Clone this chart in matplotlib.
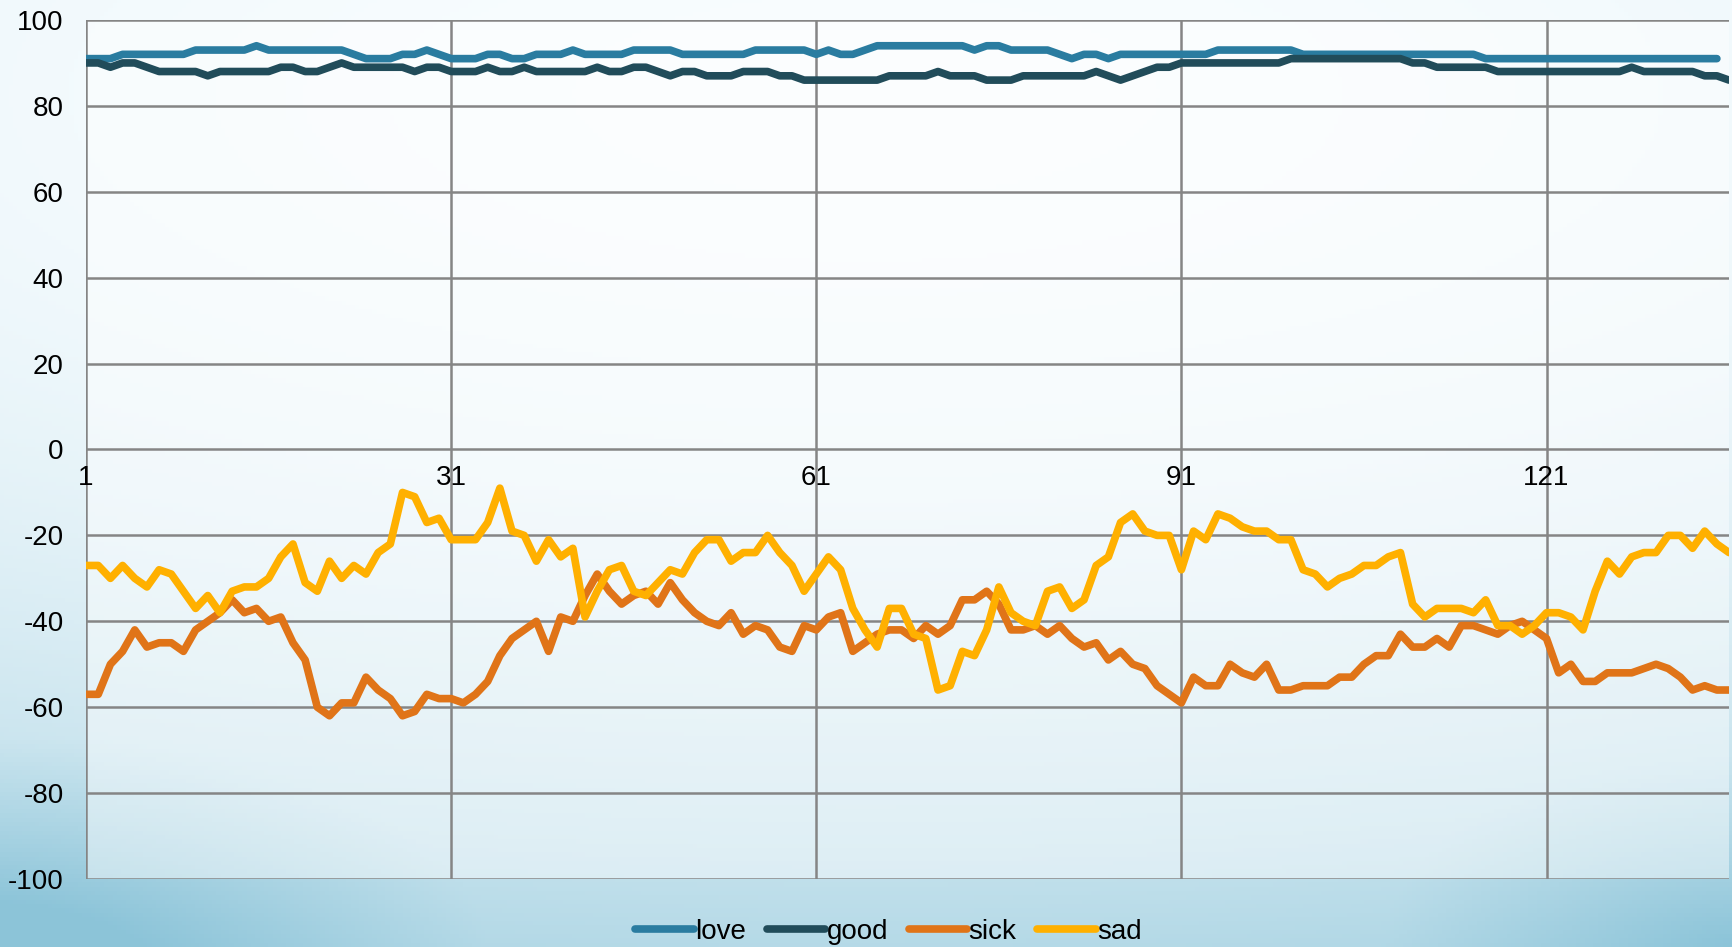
import numpy as np
import matplotlib
matplotlib.use("Agg")
import matplotlib.pyplot as plt

plt.rcParams['font.family'] = ['Liberation Sans', 'DejaVu Sans']
plt.rcParams['axes.unicode_minus'] = False

love = [91, 91, 91, 92, 92, 92, 92, 92, 92, 93, 93, 93, 93, 93, 94, 93, 93, 93, 93, 93,
        93, 93, 92, 91, 91, 91, 92, 92, 93, 92, 91, 91, 91, 92, 92,
        91, 91, 92, 92, 92, 93, 92, 92, 92, 92, 93, 93, 93, 93, 92, 92, 92, 92, 92, 92,
        93, 93, 93, 93, 93, 92, 93, 92, 92, 93, 94, 94, 94,
        94, 94, 94, 94, 94, 93, 94, 94, 93, 93, 93, 93, 92, 91, 92, 92, 91, 92, 92, 92,
        92, 92, 92, 92, 92, 93, 93, 93, 93, 93, 93, 93, 92, 92,
        92, 92, 92, 92, 92, 92, 92, 92, 92, 92, 92, 92, 92,
        91, 91, 91, 91, 91, 91, 91, 91, 91, 91, 91, 91, 91, 91, 91, 91, 91, 91, 91, 91]

good = [90, 90, 89, 90, 90, 89, 88, 88, 88, 88, 87, 88, 88, 88, 88, 88, 89, 89, 88, 88,
        89, 90, 89, 89, 89, 89, 89, 88, 89, 89, 88, 88, 88, 89, 88,
        88, 89, 88, 88, 88, 88, 88, 89, 88, 88, 89, 89, 88, 87, 88, 88, 87, 87, 87, 88,
        88, 88, 87, 87, 86, 86, 86, 86, 86, 86, 86, 87, 87,
        87, 87, 88, 87, 87, 87, 86, 86, 86, 87, 87, 87, 87, 87, 87, 88, 87, 86, 87, 88,
        89, 89, 90, 90, 90, 90, 90, 90, 90, 90, 90, 91, 91, 91,
        91, 91, 91, 91, 91, 91, 91, 90, 90, 89, 89, 89, 89, 89, 88, 88, 88, 88, 88, 88,
        88, 88, 88, 88, 88, 89, 88, 88, 88, 88, 88, 87, 87, 86]

sick = [-57, -57, -50, -47, -42, -46, -45, -45, -47, -42, -40, -38, -35, -38, -37, -40,
        -39, -45, -49, -60, -62, -59, -59, -53, -56, -58, -62, -61, -57, -58, -58, -59,
        -57, -54,
        -48, -44, -42, -40, -47, -39, -40, -34, -29, -33, -36, -34, -33, -36, -31, -35,
        -38, -40, -41, -38, -43, -41, -42, -46, -47, -41, -42, -39, -38, -47, -45, -43,
        -42, -42,
        -44, -41, -43, -41, -35, -35, -33, -36, -42, -42, -41, -43, -41, -44, -46, -45,
        -49, -47, -50, -51, -55, -57, -59, -53, -55, -55, -50, -52, -53, -50, -56, -56,
        -55,
        -55, -55, -53, -53, -50, -48, -48, -43, -46, -46, -44, -46, -41, -41, -42, -43,
        -41, -40, -42, -44, -52, -50, -54, -54, -52, -52, -52, -51, -50, -51, -53, -56,
        -55, -56, -56]

sad = [-27, -27, -30, -27, -30, -32, -28, -29, -33, -37, -34, -38, -33, -32, -32, -30,
       -25, -22, -31, -33, -26, -30, -27, -29, -24, -22, -10, -11, -17, -16, -21, -21,
       -21, -17,
       -9, -19, -20, -26, -21, -25, -23, -39, -33, -28, -27, -33, -34, -31, -28, -29,
       -24, -21, -21, -26, -24, -24, -20, -24, -27, -33, -29, -25, -28, -37, -42, -46,
       -37, -37,
       -43, -44, -56, -55, -47, -48, -42, -32, -38, -40, -41, -33, -32, -37, -35, -27,
       -25, -17, -15, -19, -20, -20, -28, -19, -21, -15, -16, -18, -19, -19, -21, -21,
       -28,
       -29, -32, -30, -29, -27, -27, -25, -24, -36, -39, -37, -37, -37, -38, -35, -41,
       -41, -43, -41, -38, -38, -39, -42, -33, -26, -29, -25, -24, -24, -20, -20, -23,
       -19, -22, -24]

names = ['love', 'good', 'sick', 'sad']
colors = ['#2a7ca0', '#214c5a', '#e07418', '#ffb000']
xticks = [1, 31, 61, 91, 121]
yticks = list(range(-100, 101, 20))

fig = plt.figure(figsize=(17.32, 9.47), dpi=100)

# slide-like background: near white at the top, light blue towards the bottom
bg = fig.add_axes([0, 0, 1, 1], zorder=-10)
u, v = np.meshgrid(np.linspace(0, 1, 400), np.linspace(0, 1, 220))
d = np.sqrt(((u - 0.5) / 1.5) ** 2 + ((v - 0.1) / 0.95) ** 2)
t = np.clip(d, 0, 1) ** 2.2 * 0.7
corner = np.clip(1 - np.sqrt((u / 0.28) ** 2 + ((1 - v) / 0.22) ** 2), 0, 1) * 0.45
corner2 = np.clip(1 - np.sqrt(((1 - u) / 0.2) ** 2 + ((1 - v) / 0.2) ** 2), 0, 1) * 0.3
t = np.clip(t + corner + corner2, 0, 1)
light = np.array([0.975, 0.992, 1.0])
blue = np.array([0.55, 0.77, 0.85])
img = light * (1 - t[..., None]) + blue * t[..., None]
bg.imshow(img, aspect='auto', extent=[0, 1, 0, 1], origin='upper')
bg.axis('off')

ax = fig.add_axes([0.0497, 0.0718, 0.9486, 0.9071])
ax.set_facecolor((1, 1, 1, 0.45))

x = np.arange(1, len(good) + 1)
series = [love, good, sick, sad]
for name, vals, c in zip(names, series, colors):
    ax.plot(np.arange(1, len(vals) + 1), vals, color=c, lw=5.5, label=name,
            solid_capstyle='round', solid_joinstyle='round', zorder=3)

ax.set_xlim(1, len(x))
ax.set_ylim(-100, 100)
ax.set_xticks(xticks)
ax.set_yticks(yticks)
ax.grid(True, color='#858585', lw=1.8, zorder=0)

for s in ['right', 'bottom', 'left', 'top']:
    ax.spines[s].set_visible(False)
ax.spines['bottom'].set_position(('data', 0))

ax.tick_params(axis='x', length=0, pad=11, labelsize=20)
ax.tick_params(axis='y', length=0, pad=16, labelsize=20)

fig.legend(loc='center', bbox_to_anchor=(0.513, 0.016), ncol=4, frameon=False,
           fontsize=20, handlelength=2.1, handletextpad=0.05, columnspacing=0.75)

plt.savefig('out.png', dpi=100)
